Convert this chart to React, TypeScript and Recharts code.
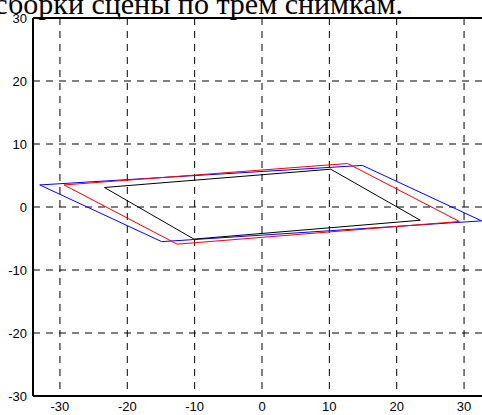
import React from "react";
import { LineChart, Line, XAxis, YAxis, CartesianGrid, ReferenceLine } from "recharts";

const titleText = "сборки сцены по трем снимкам.";
const xTicks = [-30, -20, -10, 0, 10, 20, 30];
const yTicks = [-30, -20, -10, 0, 10, 20, 30];

const blueX = [-33.0, 14.9, 32.6, -14.9, -33.0];
const blueY = [3.5, 6.6, -2.2, -5.5, 3.5];
const redX = [-29.4, 12.7, 29.3, -12.6, -29.4];
const redY = [3.5, 6.9, -2.3, -5.9, 3.5];
const blackX = [-23.4, 10.2, 23.5, -10.1, -23.4];
const blackY = [3.1, 6.0, -2.1, -5.1, 3.1];

const toPts = (xs: number[], ys: number[]) => xs.map((x, i) => ({ x, y: ys[i] }));
const blue = toPts(blueX, blueY);
const red = toPts(redX, redY);
const black = toPts(blackX, blackY);

const FONT = "Liberation Sans, Arial, sans-serif";
const tickStyle = { fontFamily: FONT, fontSize: 13, fill: "#000" };

const XTick = (props: any) => {
  const { x, y, payload } = props;
  return (
    <text x={x} y={y + 15} textAnchor="middle" fontFamily={FONT} fontSize={13} fill="#000">
      {payload.value}
    </text>
  );
};

export default function App() {
  return (
    <div style={{ position: "absolute", left: 0, top: 0, width: 482, height: 415, overflow: "hidden", background: "#fff" }}>
      <LineChart
        width={500}
        height={415}
        margin={{ top: 18, right: 9, bottom: 0, left: 0 }}
      >
        <CartesianGrid stroke="#000" strokeDasharray="7 6" horizontalValues={yTicks} verticalValues={xTicks} />
        <XAxis
          type="number"
          dataKey="x"
          domain={[-34, 34]}
          ticks={xTicks}
          allowDataOverflow
          height={19}
          tickSize={0}
          tickMargin={0}
          tick={<XTick />}
          axisLine={{ stroke: "#000", strokeWidth: 2 }}
          interval={0}
        />
        <YAxis
          type="number"
          dataKey="y"
          domain={[-30, 30]}
          ticks={yTicks}
          allowDataOverflow
          width={33}
          tickSize={0}
          tickMargin={6}
          tick={tickStyle}
          axisLine={{ stroke: "#000", strokeWidth: 2 }}
          interval={0}
        />
        <ReferenceLine y={30} stroke="#000" strokeWidth={2} />
        <Line data={blue} dataKey="y" stroke="#0000ff" strokeWidth={1} dot={false} isAnimationActive={false} type="linear" />
        <Line data={red} dataKey="y" stroke="#ff0000" strokeWidth={1} dot={false} isAnimationActive={false} type="linear" />
        <Line data={black} dataKey="y" stroke="#000000" strokeWidth={1} dot={false} isAnimationActive={false} type="linear" />
      </LineChart>
      <svg width={482} height={30} style={{ position: "absolute", left: 0, top: 0 }}>
        <text x={403} y={14} textAnchor="end" fontFamily="Liberation Serif, Times New Roman, serif" fontSize={30} fill="#000">
          {titleText}
        </text>
      </svg>
    </div>
  );
}
